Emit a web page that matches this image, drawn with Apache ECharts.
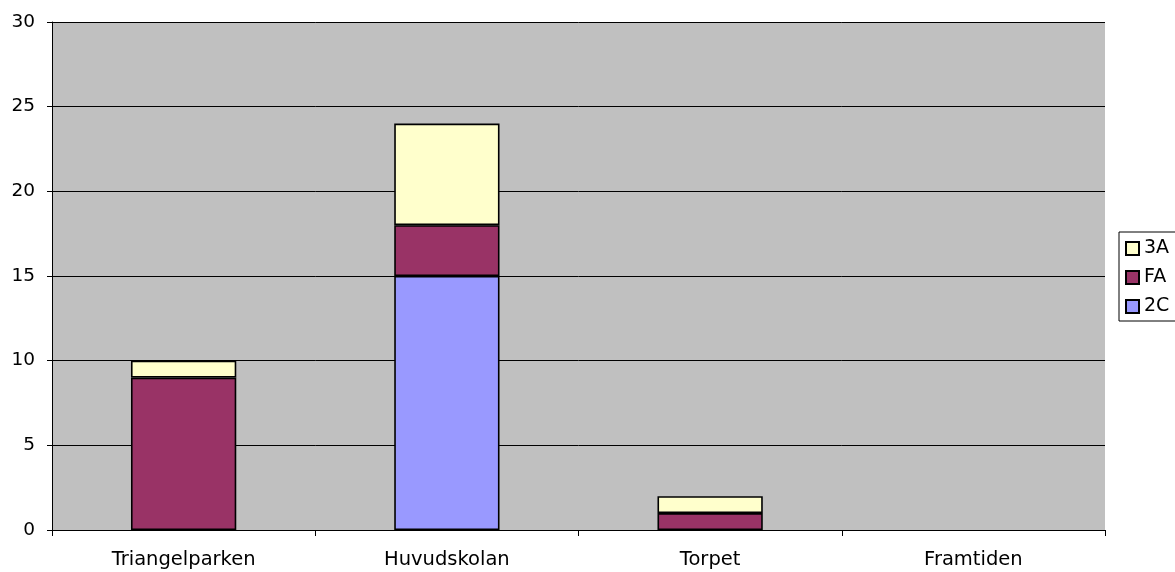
<!DOCTYPE html>
<html><head><meta charset="utf-8">
<script src="https://cdn.jsdelivr.net/npm/echarts@6/dist/echarts.min.js"></script>
<style>html,body{margin:0;padding:0;background:#fff}#c{width:1175px;height:572px}</style>
</head><body><div id="c"></div>
<script>
const categories = ['Triangelparken', 'Huvudskolan', 'Torpet', 'Framtiden'];
const s2C = [0, 15, 0, 0];
const sFA = [9, 3, 1, 0];
const s3A = [1, 6, 1, 0];
const yTicks = [0, 5, 10, 15, 20, 25, 30];

// zero-height segments are not drawn in the reference
const nz = (arr) => arr.map(v => (v === 0 ? '-' : v));

const chart = echarts.init(document.getElementById('c'), null, {renderer: 'canvas'});
const font = 'DejaVu Sans, Verdana, sans-serif';
const barStyle = (c) => ({color: c, borderColor: '#000', borderWidth: 1.6});
chart.setOption({
  animation: false,
  backgroundColor: '#fff',
  textStyle: {fontFamily: font},
  grid: {left: 52, right: 70, top: 22, bottom: 42, show: true, backgroundColor: '#C0C0C0', borderWidth: 0},
  legend: {
    orient: 'vertical', left: 1119, top: 232,
    data: ['3A', 'FA', '2C'],
    backgroundColor: '#fff', borderColor: '#000', borderWidth: 1,
    padding: [7, 20, 5, 6],
    itemWidth: 13, itemHeight: 13, itemGap: 10, itemTextGap: 5,
    icon: 'rect',
    textStyle: {fontSize: 19, color: '#000', fontFamily: font},
    selectedMode: false
  },
  xAxis: {
    type: 'category', data: categories,
    axisLine: {lineStyle: {color: '#000', width: 1}},
    axisTick: {show: true, length: 6, lineStyle: {color: '#000'}},
    axisLabel: {fontSize: 19.5, color: '#000', margin: 20, fontFamily: font},
    splitLine: {show: false}
  },
  yAxis: {
    type: 'value', min: yTicks[0], max: yTicks[yTicks.length - 1], interval: 5,
    axisLine: {show: true, lineStyle: {color: '#000', width: 1}},
    axisTick: {show: true, length: 5, lineStyle: {color: '#000'}},
    axisLabel: {fontSize: 18.5, color: '#000', margin: 17, fontFamily: font},
    splitLine: {show: true, lineStyle: {color: '#000', width: 1}}
  },
  series: [
    {name: '2C', type: 'bar', stack: 'a', data: nz(s2C), barWidth: '40%', itemStyle: barStyle('#9999FF')},
    {name: 'FA', type: 'bar', stack: 'a', data: nz(sFA), barWidth: '40%', itemStyle: barStyle('#993366')},
    {name: '3A', type: 'bar', stack: 'a', data: nz(s3A), barWidth: '40%', itemStyle: barStyle('#FFFFCC')}
  ]
});
</script></body></html>
